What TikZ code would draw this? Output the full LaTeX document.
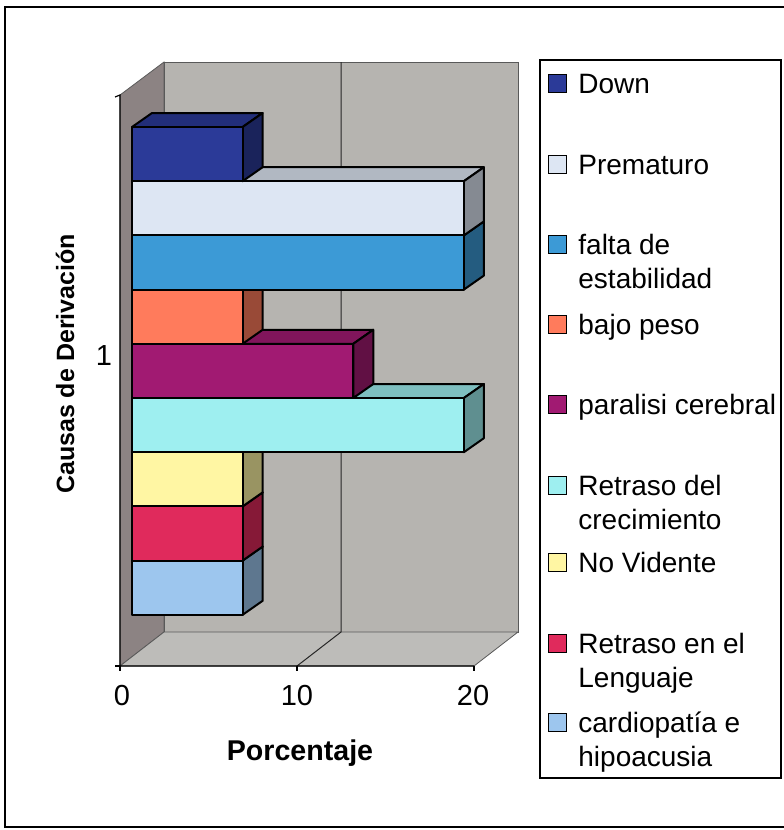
\documentclass[tikz,border=0pt]{standalone}
\usepackage{fontspec}
\setmainfont{Liberation Sans}
\usepackage{tikz}
\usetikzlibrary{positioning}

\definecolor{wallback}{HTML}{B6B4B0}
\definecolor{wallside}{HTML}{8C8383}
\definecolor{wallfloor}{HTML}{BDBCB9}
\definecolor{cDown}{HTML}{2B3A98}
\definecolor{cPrem}{HTML}{DDE6F3}
\definecolor{cFalta}{HTML}{3C9AD6}
\definecolor{cPeso}{HTML}{FF7B5C}
\definecolor{cParal}{HTML}{A11A72}
\definecolor{cCrec}{HTML}{9EEFF0}
\definecolor{cVid}{HTML}{FFF6A3}
\definecolor{cLeng}{HTML}{E02A5C}
\definecolor{cCard}{HTML}{9DC6EE}

\newcommand{\chartfont}{\fontsize{14}{17}\selectfont}
\newcommand{\tickfont}{\fontsize{14.5}{17}\selectfont}

\tikzset{
  wall/.style={draw=black!65, line width=0.4pt},
  grid/.style={draw=black!85, line width=0.5pt},
  barline/.style={draw=black, line width=1pt, line join=round},
  axisline/.style={draw=black, line width=0.6pt},
  legendkey/.style={draw, line width=0.6pt, minimum size=9pt, inner sep=0pt, anchor=south west},
  legendtext/.style={anchor=base west, align=left, inner sep=0pt, font=\chartfont},
  ticklabel/.style={font=\tickfont, inner sep=0pt},
  axistitle/.style={font=\bfseries, inner sep=0pt},
}

% one 3D bar: row (0 = top), value, colour
\newcommand{\barra}[3]{%
  \pgfmathsetmacro{\bartop}{-127-54.2*#1}
  \pgfmathsetmacro{\barbot}{\bartop-54.2}
  \pgfmathsetmacro{\barend}{132+17.7*#2}
  \filldraw[barline, fill=#3!80!black] (132,\bartop) -- ++(20,14) -- (\barend+20,\bartop+14) -- (\barend,\bartop) -- cycle;
  \filldraw[barline, fill=#3!60!black] (\barend,\bartop) -- (\barend+20,\bartop+14) -- (\barend+20,\barbot+14) -- (\barend,\barbot) -- cycle;
  \filldraw[barline, fill=#3] (132,\barbot) rectangle (\barend,\bartop);
}

\begin{document}
\begin{tikzpicture}[x=0.5pt,y=0.5pt]
  \useasboundingbox (0,0) rectangle (783,-830);
  % Outer frame
  \draw[line width=1pt] (5,-7) rectangle (792,-827);

  % Walls and floor
  \filldraw[wall, fill=wallside] (120,-95) -- (164,-62) -- (164,-632) -- (120,-666) -- cycle;
  \filldraw[wall, fill=wallback] (164,-62) rectangle (518,-632);
  \filldraw[wall, fill=wallfloor] (120,-666) -- (474,-666) -- (518,-632) -- (164,-632) -- cycle;

  % Gridline at 10
  \draw[grid] (297,-666) -- (341,-632) -- (341,-62);

  % Bars, drawn from the bottom row up
  \barra{8}{6.25}{cCard}
  \barra{7}{6.25}{cLeng}
  \barra{6}{6.25}{cVid}
  \barra{5}{18.75}{cCrec}
  \barra{4}{12.5}{cParal}
  \barra{3}{6.25}{cPeso}
  \barra{2}{18.75}{cFalta}
  \barra{1}{18.75}{cPrem}
  \barra{0}{6.25}{cDown}

  % Axes
  \draw[axisline] (115,-97) -- (120,-95) -- (120,-666) -- (474,-666);
  \draw[axisline] (115,-666) -- (120,-666);
  \foreach \tx in {120,297,474}
    \draw[axisline] (\tx,-666) -- (\tx,-671);

  % Axis labels
  \node[ticklabel] (t0)  at (122,-696) {0};
  \node[ticklabel] (t10) at (297,-696) {10};
  \node[ticklabel] (t20) at (473,-696) {20};
  \node[ticklabel] (cat) at (104,-356) {1};
  \node[axistitle, font=\fontsize{14.3}{17}\selectfont\bfseries] (xtitle) at (300,-753) {Porcentaje};
  \node[axistitle, font=\fontsize{12.5}{15}\selectfont\bfseries, rotate=90] (ytitle) at (65,-364) {Causas de Derivación};

  % Legend
  \draw[line width=0.6pt, fill=white] (540,-60) rectangle (781,-778);
  \node[legendkey, fill=cDown]  (kDown)  at (548,-93)  {};
  \node[legendkey, fill=cPrem]  (kPrem)  at (548,-174) {};
  \node[legendkey, fill=cFalta] (kFalta) at (548,-254) {};
  \node[legendkey, fill=cPeso]  (kPeso)  at (548,-334) {};
  \node[legendkey, fill=cParal] (kParal) at (548,-414) {};
  \node[legendkey, fill=cCrec]  (kCrec)  at (548,-495) {};
  \node[legendkey, fill=cVid]   (kVid)   at (548,-572) {};
  \node[legendkey, fill=cLeng]  (kLeng)  at (548,-653) {};
  \node[legendkey, fill=cCard]  (kCard)  at (548,-732) {};

  % two-line entries sit on the baseline of their last line
  \node[legendtext] (lDown)  at (578,-93)  {Down};
  \node[legendtext] (lPrem)  at (578,-174) {Prematuro};
  \node[legendtext] (lFalta) at (578,-288) {falta de\\estabilidad};
  \node[legendtext] (lPeso)  at (578,-334) {bajo peso};
  \node[legendtext] (lParal) at (578,-414) {paralisi cerebral};
  \node[legendtext] (lCrec)  at (578,-529) {Retraso del\\crecimiento};
  \node[legendtext] (lVid)   at (578,-572) {No Vidente};
  \node[legendtext] (lLeng)  at (578,-687) {Retraso en el\\Lenguaje};
  \node[legendtext] (lCard)  at (578,-766) {cardiopatía e\\hipoacusia};
\end{tikzpicture}
\end{document}
